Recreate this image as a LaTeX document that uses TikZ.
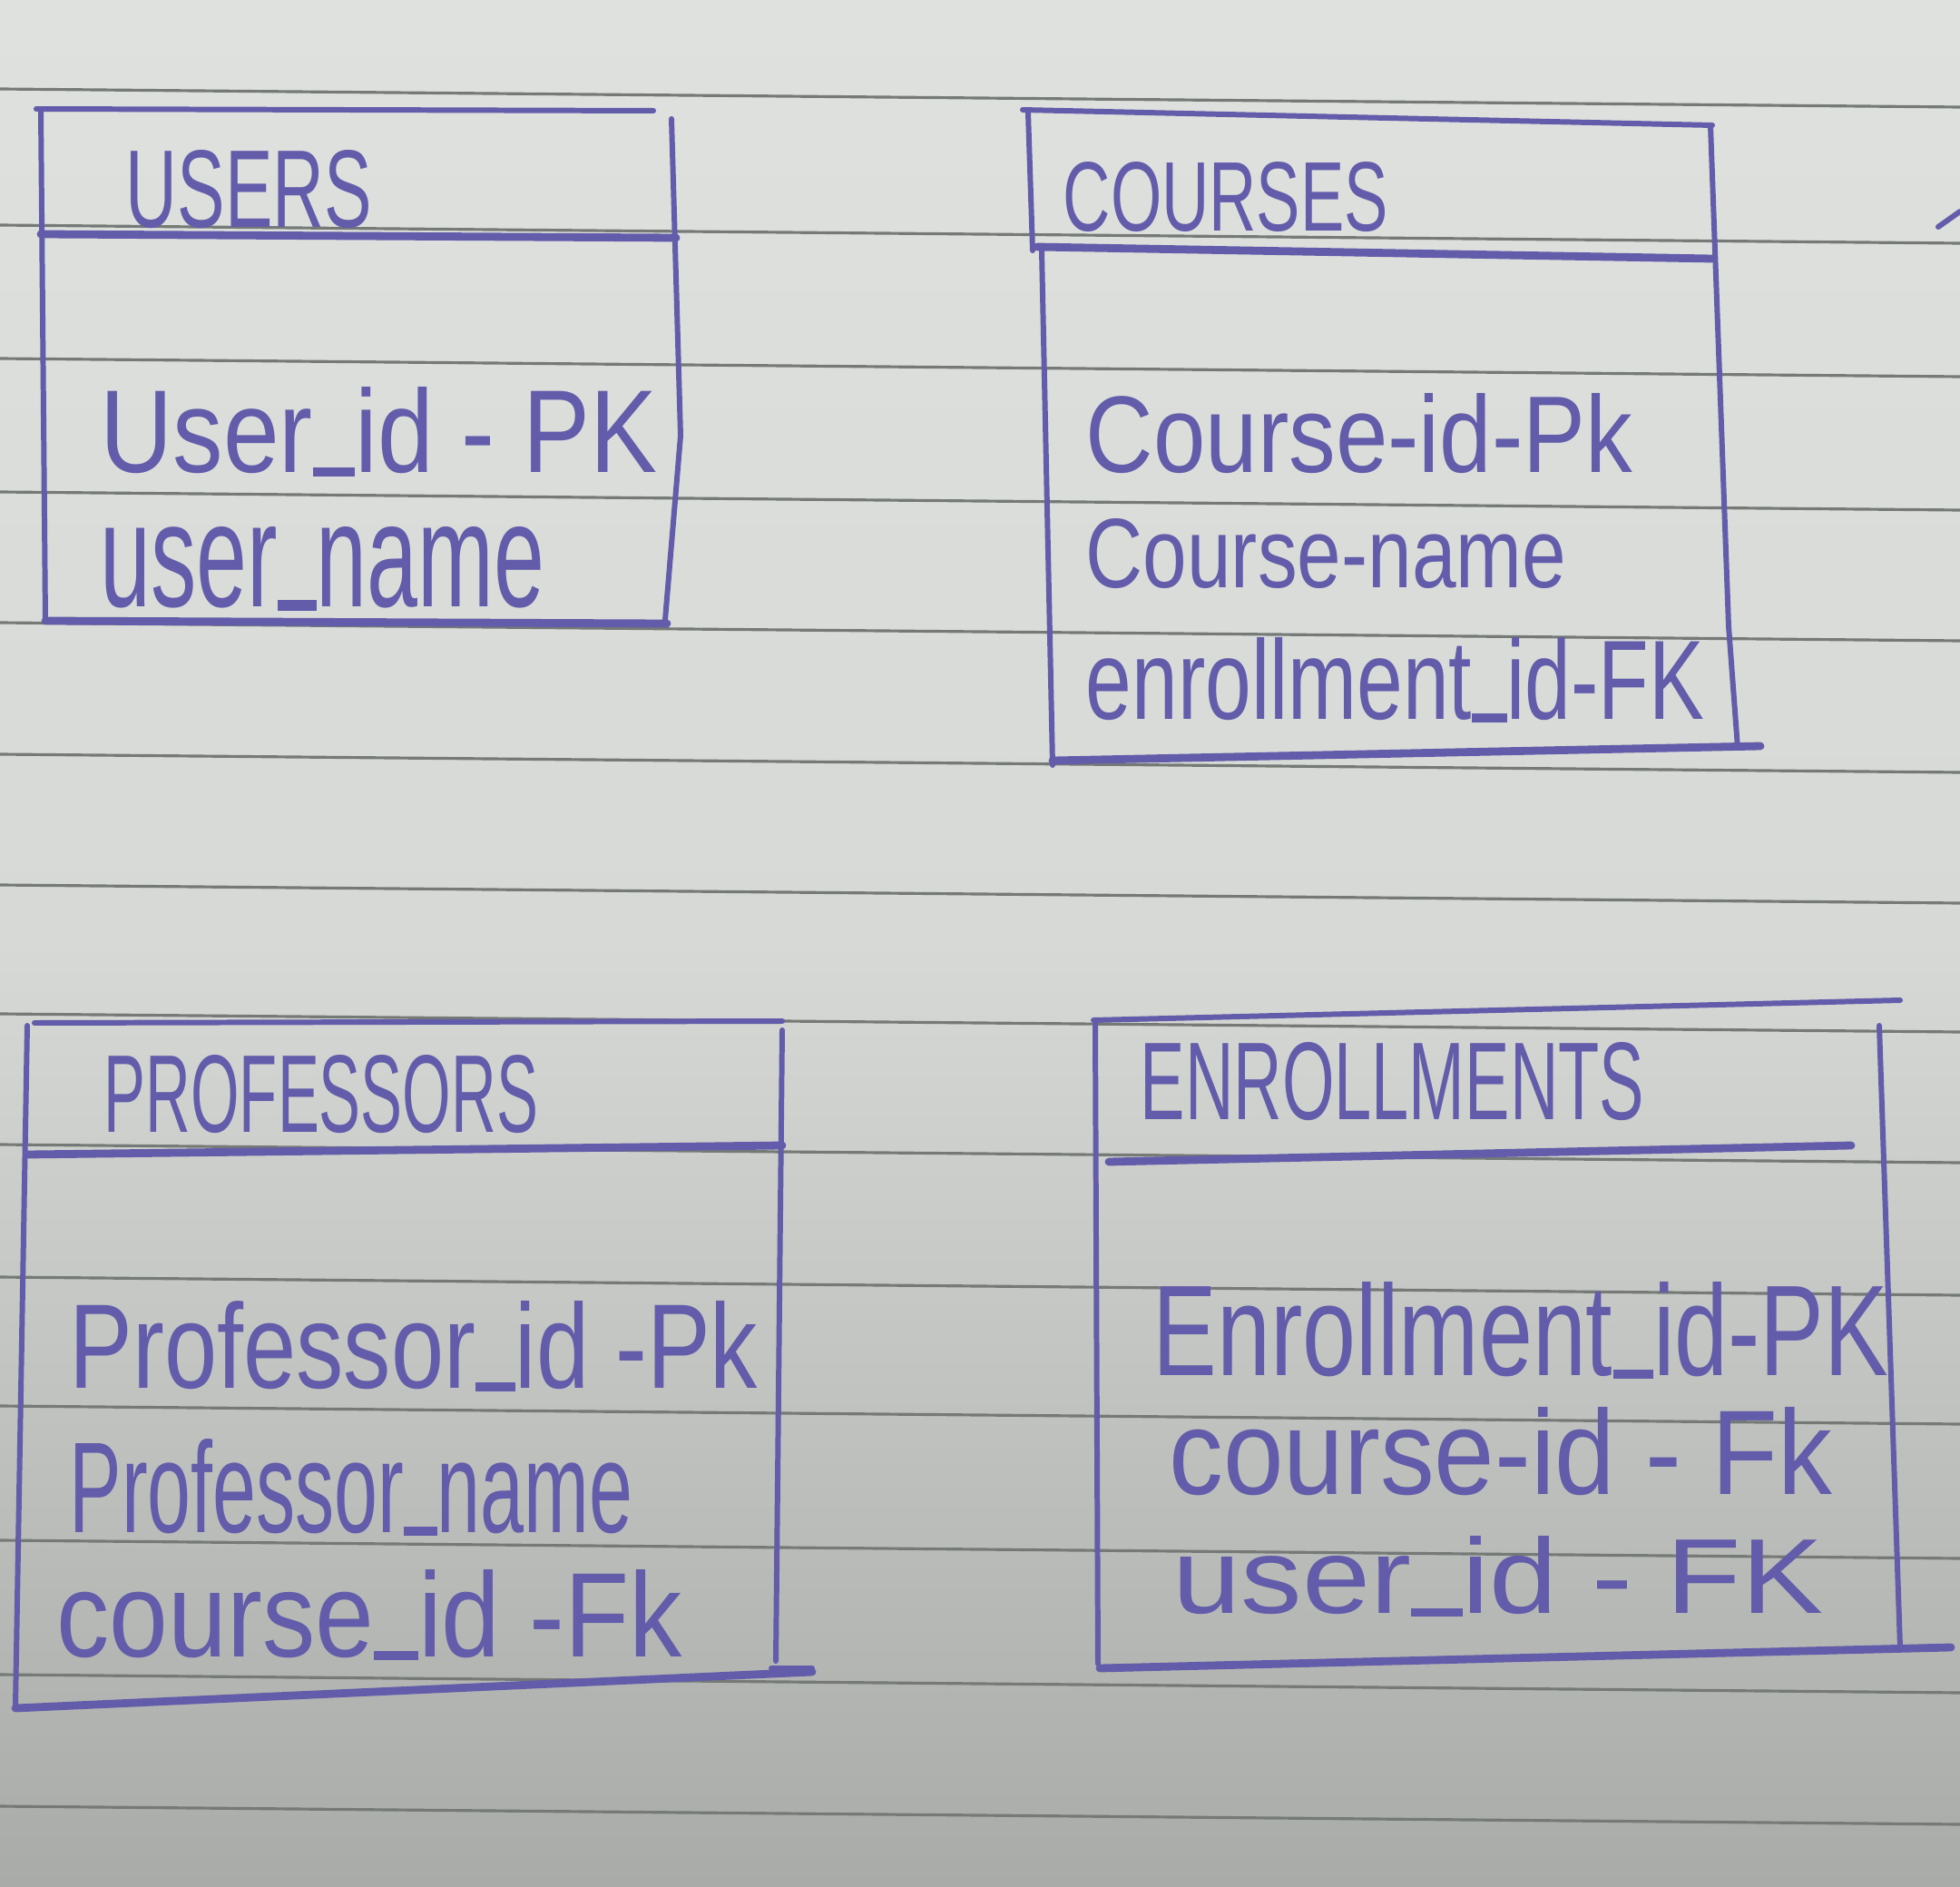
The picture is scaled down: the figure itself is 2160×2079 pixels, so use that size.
\documentclass[tikz,border=0pt]{standalone}
\usepackage{fontspec}
\setmainfont{Liberation Sans}
\usepackage{graphicx}
\definecolor{ink}{RGB}{98,92,170}
\definecolor{rule}{RGB}{118,122,118}
\definecolor{papertop}{RGB}{222,225,221}
\definecolor{paperbot}{RGB}{168,171,167}
\newcommand{\us}{\rule[-0.03em]{0.42em}{0.075em}}
\tikzset{
  pen/.style={draw=ink, line width=1.7pt, line cap=round, line join=round},
  thickpen/.style={draw=ink, line width=2.5pt, line cap=round, line join=round},
  paperline/.style={draw=rule, line width=0.9pt},
  fld/.style={anchor=base west, inner sep=0pt, text=ink}
}
\begin{document}
\begin{tikzpicture}[x=0.01cm, y=-0.01cm]
\useasboundingbox (0,0) rectangle (2160,2079);
\shade[top color=papertop, bottom color=paperbot, middle color=papertop!85!paperbot] (0,0) rectangle (2160,2079);
% paper rules
\foreach \yy in {98,248,395,542,686,831,975,1117,1261,1407,1549,1697,1845,1990}
  \draw[paperline] (0,\yy) -- (2160,\yy+20);

% ---------- USERS ----------
\draw[pen] (40,120) -- (720,122);
\draw[pen] (45,122) -- (50,682);
\draw[pen] (740,131) -- (750,480) -- (733,683);
\draw[thickpen] (50,684) -- (735,687);
\draw[thickpen] (45,258) -- (745,262);
\node[fld] (usersT) at (138,251) {\resizebox{2.71cm}{0.85cm}{USERS}};
\node[fld] (usersA) at (110,521) {\resizebox{6.13cm}{0.94cm}{User\us id - PK}};
\node[fld] (usersB) at (110,668) {\resizebox{4.89cm}{0.88cm}{user\us name}};

% ---------- COURSES ----------
\draw[pen] (1127,121) -- (1887,138);
\draw[pen] (1133,124) -- (1138,276);
\draw[pen] (1148,276) -- (1160,843);
\draw[pen] (1885,138) -- (1905,690) -- (1915,824);
\draw[thickpen] (1143,272) -- (1887,285);
\draw[thickpen] (1160,838) -- (1940,822);
\node[fld] (coursesT) at (1171,255) {\resizebox{3.58cm}{0.76cm}{COURSES}};
\node[fld] (coursesA) at (1196,521) {\resizebox{6.02cm}{0.87cm}{Course-id-Pk}};
\node[fld] (coursesB) at (1196,647) {\resizebox{5.29cm}{0.76cm}{Course-name}};
\node[fld] (coursesC) at (1196,792) {\resizebox{6.81cm}{0.90cm}{enrollment\us id-FK}};
\draw[pen] (2136,250) -- (2160,233);

% ---------- PROFESSORS ----------
\draw[pen] (38,1127) -- (862,1125);
\draw[pen] (30,1130) -- (17,1880);
\draw[pen] (862,1135) -- (855,1830);
\draw[thickpen] (30,1272) -- (862,1262);
\draw[thickpen] (17,1882) -- (895,1842);
\draw[pen] (850,1838) -- (895,1838);
\node[fld] (profT) at (114,1247) {\resizebox{4.78cm}{0.85cm}{PROFESSORS}};
\node[fld] (profA) at (76,1529) {\resizebox{7.58cm}{0.96cm}{Professor\us id -Pk}};
\node[fld] (profB) at (76,1688) {\resizebox{6.20cm}{1.03cm}{Professor\us name}};
\node[fld] (profC) at (62,1825) {\resizebox{6.89cm}{0.96cm}{course\us id -Fk}};

% ---------- ENROLLMENTS ----------
\draw[pen] (1205,1124) -- (2094,1102);
\draw[pen] (1207,1128) -- (1210,1833);
\draw[pen] (2071,1130) -- (2094,1815);
\draw[thickpen] (1222,1280) -- (2040,1262);
\draw[thickpen] (1212,1838) -- (2150,1815);
\node[fld] (enrT) at (1256,1233) {\resizebox{5.55cm}{0.85cm}{ENROLLMENTS}};
\node[fld] (enrA) at (1270,1515) {\resizebox{8.10cm}{1.03cm}{Enrollment\us id-PK}};
\node[fld] (enrB) at (1288,1646) {\resizebox{7.30cm}{0.96cm}{course-id - Fk}};
\node[fld] (enrC) at (1292,1777) {\resizebox{7.16cm}{0.85cm}{user\us id - FK}};
\end{tikzpicture}
\end{document}
